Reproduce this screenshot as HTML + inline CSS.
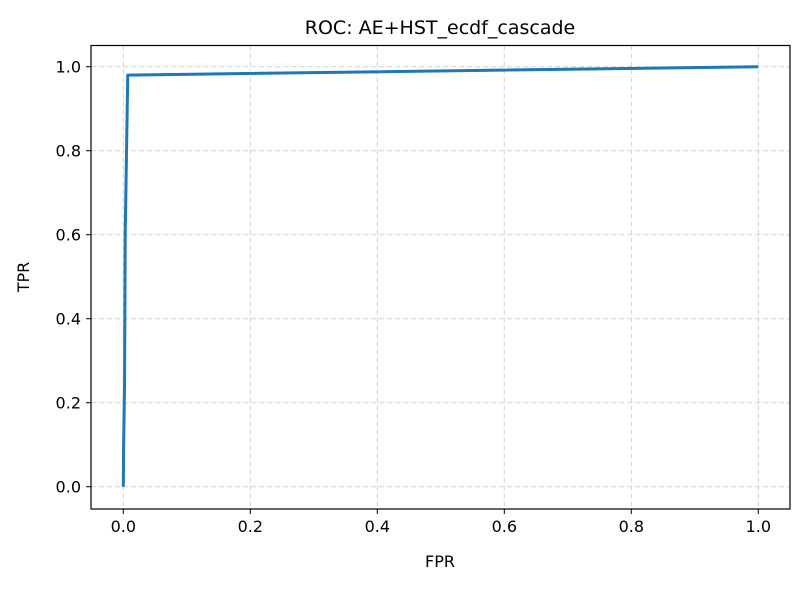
<!DOCTYPE html>
<html><head><meta charset="utf-8"><style>
body{margin:0;background:#fff;font-family:"Liberation Sans","DejaVu Sans",sans-serif}
</style></head><body>
<svg id="chart" width="803" height="586" viewBox="0 0 803 586" font-family="DejaVu Sans, Liberation Sans, sans-serif">
<rect width="803" height="586" fill="#fff"/>
<g id="grid"></g>
<g id="ticks"></g>
<path id="curve" fill="none" stroke="#1f77b4" stroke-width="3" stroke-linejoin="round"/>
<rect x="91" y="45.5" width="699" height="463.5" fill="none" stroke="#000" stroke-width="1.2"/>
<text x="440" y="34" text-anchor="middle" font-size="19">ROC: AE+HST_ecdf_cascade</text>
<text x="440" y="567" text-anchor="middle" font-size="16">FPR</text>
<text x="29" y="277" text-anchor="middle" font-size="16" transform="rotate(-90 29 277)">TPR</text>
</svg>
<script>
const fpr=[0,0.0005,0.002,0.003,0.007,1];
const tpr=[0,0.1,0.25,0.6,0.98,1];
const xTicks=[0,0.2,0.4,0.6,0.8,1.0];
const yTicks=[0,0.2,0.4,0.6,0.8,1.0];
const X=v=>123.3+v*635, Y=v=>486.7-v*420;
const ns="http://www.w3.org/2000/svg";
const g=document.getElementById('grid'), t=document.getElementById('ticks');
function mk(p,tag,a){const e=document.createElementNS(ns,tag);for(const k in a)e.setAttribute(k,a[k]);p.appendChild(e);return e;}
xTicks.forEach(v=>{
 const l=mk(g,'line',{x1:X(v),x2:X(v),y1:45.5,y2:509,stroke:'#d3d3d3','stroke-dasharray':'5,3'});
 
 
 mk(t,'line',{x1:X(v),x2:X(v),y1:509,y2:514,stroke:'#000'});
 const s=mk(t,'text',{x:X(v),y:532,'text-anchor':'middle','font-size':'16'});s.textContent=v.toFixed(1);
 
 
});
yTicks.forEach(v=>{
 const l=mk(g,'line',{x1:91,x2:790,y1:Y(v),y2:Y(v),stroke:'#d3d3d3','stroke-dasharray':'5,3'});
 
 
 mk(t,'line',{x1:86,x2:91,y1:Y(v),y2:Y(v),stroke:'#000'});
 const s=mk(t,'text',{x:81,y:Y(v)+6,'text-anchor':'end','font-size':'16'});s.textContent=v.toFixed(1);
 
 
});
document.getElementById('curve').setAttribute('d',fpr.map((v,i)=>(i?'L':'M')+X(v)+','+Y(tpr[i])).join(''));
</script>
</body></html>
